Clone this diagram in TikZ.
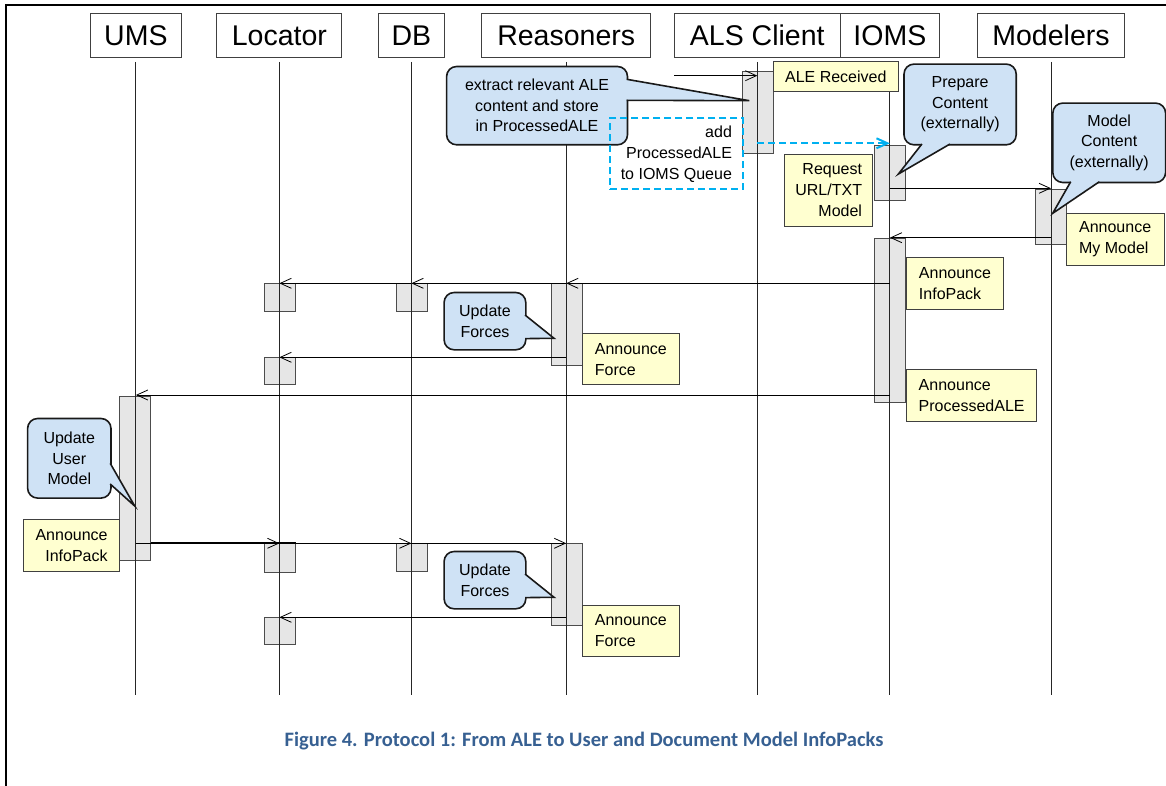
\documentclass[tikz,border=0pt]{standalone}
\usepackage{fontspec}
\setmainfont{Liberation Sans}
\newfontfamily\capfont{Carlito}
\usetikzlibrary{arrows.meta}
\definecolor{notefill}{RGB}{255,255,208}
\definecolor{callfill}{RGB}{207,226,245}
\definecolor{barfill}{RGB}{230,230,230}
\definecolor{dashblue}{RGB}{0,176,240}
\definecolor{capblue}{RGB}{55,96,146}
\begin{document}
\begin{tikzpicture}[x=1pt,y=-1pt,
  head/.style={draw=black!75, line width=0.9pt, minimum height=44.6pt, inner sep=0pt, font=\fontsize{28.5}{30}\selectfont, anchor=north},
  life/.style={draw=black!85, line width=0.9pt},
  actbar/.style={draw=black!70, fill=barfill, line width=0.8pt, minimum width=31pt, inner sep=0pt, anchor=north},
  msg/.style={-{Straight Barb[length=11pt,width=10pt]}, line width=0.8pt, draw=black},
  dmsg/.style={-{Straight Barb[length=11pt,width=10pt]}, line width=2pt, draw=dashblue, dash pattern=on 7pt off 4pt},
  notebox/.style={draw=black!75, fill=notefill, line width=0.8pt, inner sep=0pt, anchor=north west, font=\fontsize{16}{21}\selectfont},
  callbody/.style={draw=black!90, fill=callfill, line width=1.6pt, rounded corners=10pt, inner sep=0pt, anchor=north west, align=center, font=\fontsize{16}{20.5}\selectfont},
  callline/.style={draw=black!90, line width=1.6pt, line join=miter},
  dashbox/.style={draw=dashblue, line width=2pt, dash pattern=on 7pt off 4pt, inner sep=0pt, anchor=north west, font=\fontsize{16}{21}\selectfont},
]
\useasboundingbox (0,0) rectangle (1166,786);
% frame
\draw[line width=2.4pt] (5.7,786) -- (5.7,5.2) -- (1166,5.2);

% headers
\node[head, minimum width=91pt] (ums) at (135.9,12.7) {UMS};
\node[head, minimum width=125pt] (loc) at (279.4,12.7) {Locator};
\node[head, minimum width=66.5pt] (db) at (411.4,12.7) {DB};
\node[head, minimum width=169pt] (rea) at (566.2,12.7) {Reasoners};
\node[head, minimum width=165.5pt] (als) at (757.3,12.7) {ALS Client};
\node[head, minimum width=99.8pt] (ioms) at (889.9,12.7) {IOMS};
\node[head, minimum width=147pt] (mod) at (1051,12.7) {Modelers};

% activation bars
\node[actbar, minimum height=82.6pt] (alsbar) at (757.5,70.7) {};
\node[actbar, minimum height=54.7pt] (iomsbar1) at (889.5,145.3) {};
\node[actbar, minimum height=55pt] (modbar) at (1050.5,189.3) {};
\node[actbar, minimum height=164pt] (iomsbar2) at (889.5,237.7) {};
\node[actbar, minimum height=27.4pt] (lb1) at (280.3,283.3) {};
\node[actbar, minimum height=27.4pt] (db1) at (412,283.3) {};
\node[actbar, minimum height=81.7pt] (rb1) at (567,283.3) {};
\node[actbar, minimum height=27pt] (lb2) at (280.3,357.3) {};
\node[actbar, minimum height=164pt] (umsbar) at (135.3,396) {};
\node[actbar, minimum height=28.4pt] (lb3) at (280.3,543.3) {};
\node[actbar, minimum height=27.4pt] (db2) at (412,543.3) {};
\node[actbar, minimum height=81.7pt] (rb2) at (567,543.3) {};
\node[actbar, minimum height=27pt] (lb4) at (280.3,617.3) {};

% lifelines
\foreach \n in {ums,loc,db,rea,als,ioms,mod}
  \draw[life] ([yshift=-3.7pt]\n.south) -- (\n.south |- 0,695);

% messages
\coordinate (found) at (674.2,75.7);
\draw[msg] (found) -- (als.south |- found);
\draw[dmsg] (als.south |- 0,143.3) -- (ioms.south |- 0,143.3);
\draw[msg] (ioms.south |- 0,188.3) -- (mod.south |- 0,188.3);
\draw[msg] (mod.south |- 0,237.7) -- (ioms.south |- 0,237.7);
\draw[msg] (ioms.south |- 0,283.3) -- (rea.south |- 0,283.3);
\draw[msg] (rea.south |- 0,283.3) -- (db.south |- 0,283.3);
\draw[msg] (db.south |- 0,283.3) -- (loc.south |- 0,283.3);
\draw[msg] (rea.south |- 0,357.3) -- (loc.south |- 0,357.3);
\draw[msg] (ioms.south |- 0,395) -- (ums.south |- 0,395);
\draw[line width=1.8pt] (umsbar.east |- 0,543.3) -- (lb3.north east);
\draw[msg] (ums.south |- 0,543.3) -- (loc.south |- 0,543.3);
\draw[msg] (loc.south |- 0,543.3) -- (db.south |- 0,543.3);
\draw[msg] (db.south |- 0,543.3) -- (rea.south |- 0,543.3);
\draw[msg] (rea.south |- 0,617.3) -- (loc.south |- 0,617.3);

% notes
\node[notebox, minimum width=124.4pt, minimum height=30pt, align=center] (nale) at (773.2,61) {ALE Received};
\node[notebox, minimum width=87.8pt, minimum height=71.7pt, align=right] (nreq) at (784.4,154.3) {Request\\URL/TXT\\Model};
\node[notebox, minimum width=97.9pt, minimum height=52.3pt, align=left] (nmm) at (1065.8,212.7) {Announce\\My Model};
\node[notebox, minimum width=96.8pt, minimum height=52.6pt, align=left] (nip) at (906.2,256.7) {Announce\\InfoPack};
\node[notebox, minimum width=130.1pt, minimum height=52pt, align=left] (npa) at (906.2,369.3) {Announce\\ProcessedALE};
\node[notebox, minimum width=97.9pt, minimum height=51pt, align=left] (nf1) at (581.5,333.3) {Announce\\Force};
\node[notebox, minimum width=96.4pt, minimum height=52pt, align=right] (nuip) at (23,518.7) {Announce\\InfoPack};
\node[notebox, minimum width=97.9pt, minimum height=51pt, align=left] (nf2) at (581.5,605) {Announce\\Force};

% callouts
\node[callbody, minimum width=180.9pt, minimum height=78.3pt] (cext) at (445.8,65.7) {extract relevant ALE\\content and store\\in ProcessedALE};
\fill[callfill] (623.5,79.3) -- (626.7,79.3) -- (749.3,100.7) -- (626.7,100.3) -- (623.5,100.3) -- cycle;
\draw[callline] (626.7,79.3) -- (749.3,100.7) -- (626.7,100.3);

\node[callbody, minimum width=112.2pt, minimum height=80.7pt] (cprep) at (903.2,63.3) {Prepare\\Content\\(externally)};
\fill[callfill] (921.9,141) -- (921.9,144) -- (898.4,174) -- (950,144) -- (950,141) -- cycle;
\draw[callline] (921.9,144) -- (898.4,174) -- (950,144);

\node[callbody, minimum width=112.8pt, minimum height=79.4pt] (cmod) at (1052,102.3) {Model\\Content\\(externally)};
\fill[callfill] (1070.7,178.7) -- (1070.7,181.7) -- (1052.7,213.3) -- (1099.4,181.7) -- (1099.4,178.7) -- cycle;
\draw[callline] (1070.7,181.7) -- (1052.7,213.3) -- (1099.4,181.7);

\node[callbody, minimum width=81.7pt, minimum height=57.3pt] (cuf1) at (443.3,291.7) {Update\\Forces};
\fill[callfill] (522,315) -- (525,315) -- (554,338.3) -- (525,338.3) -- (522,338.3) -- cycle;
\draw[callline] (525,315) -- (554,338.3) -- (525,338.6);

\node[callbody, minimum width=81.7pt, minimum height=57.3pt] (cuf2) at (443.3,550.7) {Update\\Forces};
\fill[callfill] (522,574) -- (525,574) -- (554,597.3) -- (525,597.3) -- (522,597.3) -- cycle;
\draw[callline] (525,574) -- (554,597.3) -- (525,597.6);

\node[callbody, minimum width=83.4pt, minimum height=79.6pt] (cuum) at (26.8,417.7) {Update\\User\\Model};
\fill[callfill] (107.2,463.3) -- (110.2,463.3) -- (134.7,506) -- (110.2,484) -- (107.2,484) -- cycle;
\draw[callline] (110.2,463.3) -- (134.7,506) -- (110.2,484);

% dashed box (drawn over the callout)
\node[dashbox, minimum width=132.7pt, minimum height=71pt, align=right] (dq) at (609,117.5) {add\\ProcessedALE\\to IOMS Queue};

% caption
\node[font=\capfont\bfseries\fontsize{20.5}{24}\selectfont, text=capblue] (cap) at (584,741) {Figure 4. Protocol 1: From ALE to User and Document Model InfoPacks};
\end{tikzpicture}
\end{document}
